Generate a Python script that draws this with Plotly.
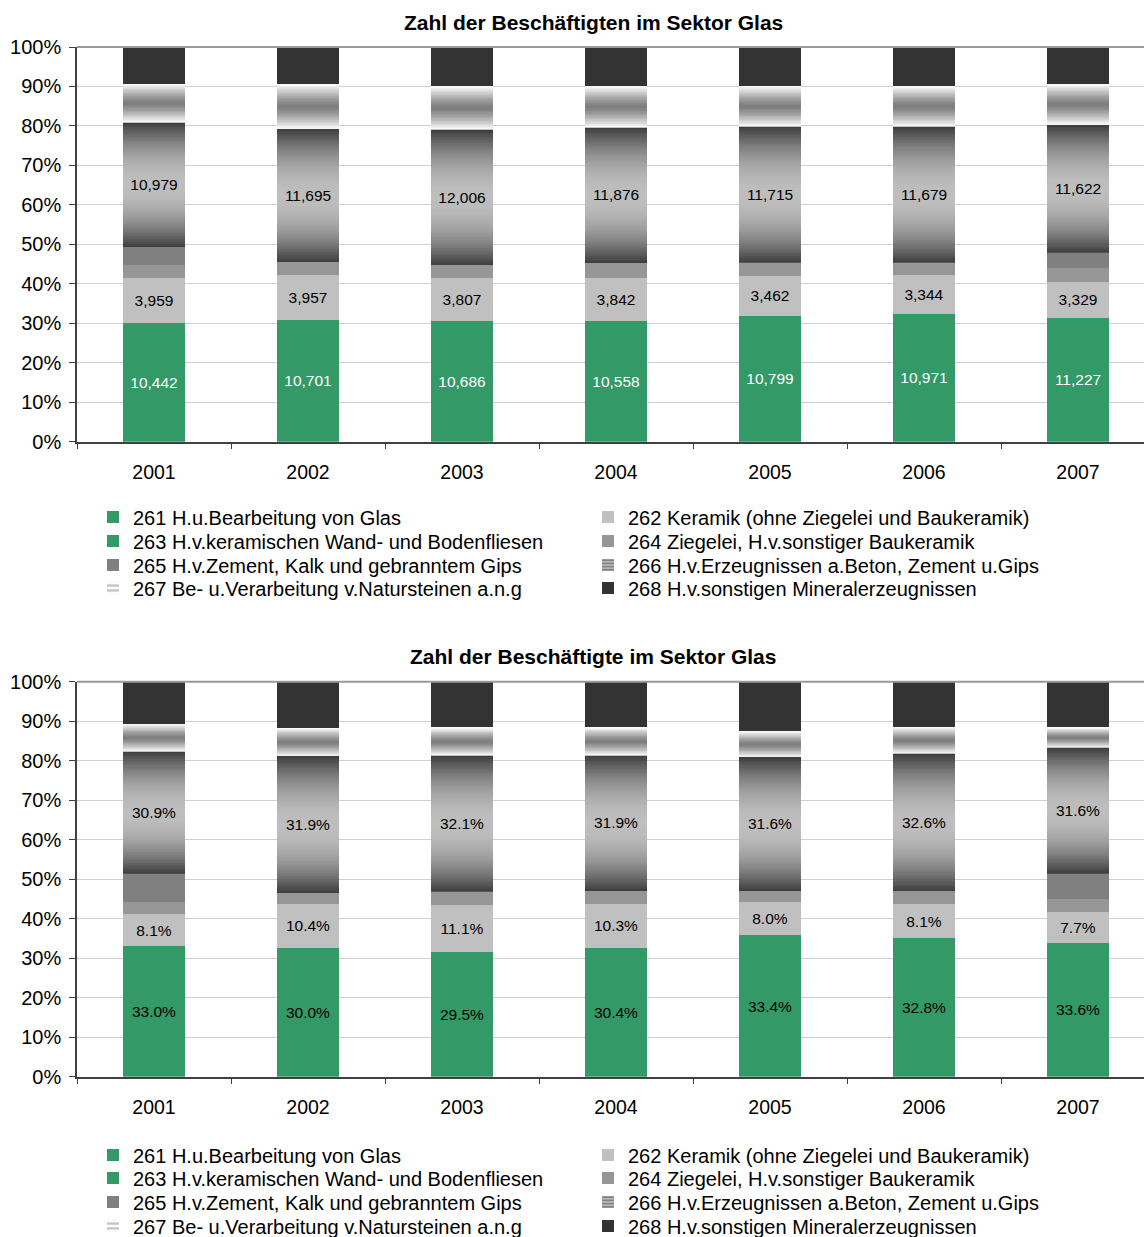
import plotly.graph_objects as go

# ---------------------------------------------------------------- data
years = ["2001", "2002", "2003", "2004", "2005", "2006", "2007"]

codes = ["261", "262", "263", "264", "265", "266", "267", "268"]
labels = [
    "261 H.u.Bearbeitung von Glas",
    "262 Keramik (ohne Ziegelei und Baukeramik)",
    "263 H.v.keramischen Wand- und Bodenfliesen",
    "264 Ziegelei, H.v.sonstiger Baukeramik",
    "265 H.v.Zement, Kalk und gebranntem Gips",
    "266 H.v.Erzeugnissen a.Beton, Zement u.Gips",
    "267 Be- u.Verarbeitung v.Natursteinen a.n.g",
    "268 H.v.sonstigen Mineralerzeugnissen",
]

# Beschäftigte (absolute Zahlen)
emp_261 = [10442, 10701, 10686, 10558, 10799, 10971, 11227]
emp_262 = [3959, 3957, 3807, 3842, 3462, 3344, 3329]
emp_263 = [0, 0, 0, 0, 0, 0, 0]
emp_264 = [1215, 1180, 1160, 1320, 1150, 1085, 1250]
emp_265 = [1595, 0, 0, 0, 0, 0, 1395]
emp_266 = [10979, 11695, 12006, 11876, 11715, 11679, 11622]
emp_267 = [3400, 3950, 3840, 3620, 3490, 3490, 3720]
emp_268 = [3225, 3225, 3450, 3410, 3320, 3320, 3330]

# Anteile in Prozent
pct_261 = [33.0, 30.0, 29.5, 30.4, 33.4, 32.8, 33.6]
pct_262 = [8.1, 10.4, 11.1, 10.3, 8.0, 8.1, 7.7]
pct_263 = [0, 0, 0, 0, 0, 0, 0]
pct_264 = [3.2, 2.6, 3.1, 3.1, 2.6, 3.1, 3.3]
pct_265 = [7.2, 0, 0, 0, 0, 0, 6.6]
pct_266 = [30.9, 31.9, 32.1, 31.9, 31.6, 32.6, 31.6]
pct_267 = [7.0, 6.6, 6.6, 6.6, 6.15, 6.2, 5.0]
pct_268 = [10.6, 10.75, 10.75, 10.7, 11.65, 10.75, 11.5]

titles = ["Zahl der Beschäftigten im Sektor Glas", "Zahl der Beschäftigte im Sektor Glas"]

# ---------------------------------------------------------------- style
FONT = "Liberation Sans, Arial, Helvetica, sans-serif"
GREEN = "#339966"
SOLID = {"261": GREEN, "262": "#c0c0c0", "263": GREEN, "264": "#969696",
         "265": "#808080", "268": "#333333"}
BAR_W = 0.4
W, H = 1144, 1237


def grey(v):
    v = int(round(max(0, min(255, v))))
    return f"rgb({v},{v},{v})"


def shade_266(t):
    # dark at both edges, light in the middle
    u = abs(2 * t - 1)
    return grey(190 - 130 * u ** 2.0)


def shade_267(t):
    # white at both edges, mid grey in the middle
    u = abs(2 * t - 1)
    return grey(125 + 130 * u ** 1.3)


GRADIENTS = {"266": (shade_266, 80), "267": (shade_267, 30)}
LEGEND_ICON = {
    "266": dict(color="#9a9a9a", pattern=dict(shape="-", fgcolor="#404040",
                                               bgcolor="#b8b8b8", size=4, solidity=0.45)),
    "267": dict(color="#ffffff", pattern=dict(shape="-", fgcolor="#8a8a8a",
                                               bgcolor="#ffffff", size=6, solidity=0.5)),
}

fig = go.Figure()


def add_chart(values, xa, ya, ya_top, legends, fmt, label_colors):
    # coloured bar segments (gradient series are built from thin stacked slices)
    for i, code in enumerate(codes):
        vals = values[code]
        leg = legends[i // 2]
        if code in GRADIENTS:
            shade, n = GRADIENTS[code]
            for s in range(n):
                c = shade((s + 0.5) / n)
                fig.add_trace(go.Bar(
                    x=years, y=[v / n for v in vals], width=BAR_W,
                    marker=dict(color=c, line=dict(width=0.7, color=c)),
                    xaxis=xa, yaxis=ya, showlegend=False, hoverinfo="skip"))
            fig.add_trace(go.Bar(
                x=years, y=[None] * len(years), width=BAR_W, name=labels[i],
                marker=dict(line=dict(width=0), **LEGEND_ICON[code]),
                xaxis=xa, yaxis=ya_top, legend=leg, hoverinfo="skip"))
        else:
            fig.add_trace(go.Bar(
                x=years, y=vals, width=BAR_W, name=labels[i],
                marker=dict(color=SOLID[code], line=dict(width=0)),
                xaxis=xa, yaxis=ya, legend=leg, hoverinfo="skip"))
    # value labels on a transparent copy of the stack drawn on top
    for code in codes:
        vals = values[code]
        if code in label_colors:
            txt = [fmt(v) for v in vals]
            col = label_colors[code]
        else:
            txt = [""] * len(vals)
            col = "#000"
        fig.add_trace(go.Bar(
            x=years, y=vals, width=BAR_W, text=txt, texttemplate="%{text}",
            textposition="inside", insidetextanchor="middle", constraintext="none",
            textfont=dict(family=FONT, size=15.5, color=col),
            marker=dict(color="rgba(0,0,0,0)", line=dict(width=0)),
            xaxis=xa, yaxis=ya_top, showlegend=False, hoverinfo="skip"))


emp = {"261": emp_261, "262": emp_262, "263": emp_263, "264": emp_264,
       "265": emp_265, "266": emp_266, "267": emp_267, "268": emp_268}
pct = {"261": pct_261, "262": pct_262, "263": pct_263, "264": pct_264,
       "265": pct_265, "266": pct_266, "267": pct_267, "268": pct_268}

add_chart(emp, "x", "y", "y3", ["legend", "legend2", "legend3", "legend4"],
          lambda v: f"{v:,}", {"261": "#ffffff", "262": "#000", "266": "#000"})
add_chart(pct, "x2", "y2", "y4", ["legend5", "legend6", "legend7", "legend8"],
          lambda v: f"{v:.1f}%", {"261": "#000", "262": "#000", "266": "#000"})

# ---------------------------------------------------------------- axes
x_dom = [77 / W, 1.0]
x_range = [-0.5, -0.5 + (W - 77) / 154.0]
doms = [[1 - 441.7 / H, 1 - 47 / H], [1 - 1076.7 / H, 1 - 681.7 / H]]

xcommon = dict(domain=x_dom, range=x_range, type="category", showgrid=False,
               showline=True, linecolor="#404040", linewidth=1.5,
               ticks="outside", tickson="boundaries", ticklen=6, tickcolor="#404040",
               tickwidth=1, tickfont=dict(family=FONT, size=19.5, color="#000"),
               ticklabelstandoff=12, fixedrange=True)
ycommon = dict(range=[0, 100], dtick=10, ticksuffix="%", showgrid=True,
               gridcolor="#cfcfcf", gridwidth=1.2, zeroline=False, showline=True,
               linecolor="#404040", linewidth=1.5, ticks="outside", ticklen=6,
               tickcolor="#404040", tickfont=dict(family=FONT, size=20, color="#000"),
               ticklabelstandoff=4, fixedrange=True)

fig.update_layout(
    xaxis=dict(anchor="y", **xcommon),
    xaxis2=dict(anchor="y2", **xcommon),
    yaxis=dict(domain=doms[0], anchor="x", **ycommon),
    yaxis2=dict(domain=doms[1], anchor="x2", **ycommon),
    yaxis3=dict(overlaying="y", anchor="x", range=[0, 100], visible=False, fixedrange=True),
    yaxis4=dict(overlaying="y2", anchor="x2", range=[0, 100], visible=False, fixedrange=True),
)

# top frame line of each plot area
for ya in ("y", "y2"):
    fig.add_shape(type="line", xref="x domain" if ya == "y" else "x2 domain",
                  yref=f"{ya} domain", x0=0, x1=1, y0=1, y1=1,
                  line=dict(color="#9a9a9a", width=2))

# titles
for k, (title, yc) in enumerate(zip(titles, [22, 656])):
    fig.add_annotation(text=f"<b>{title}</b>", xref="paper", yref="paper",
                       x=593 / W, y=1 - yc / H, xanchor="center", yanchor="middle",
                       showarrow=False, font=dict(family=FONT, size=21, color="#000"))

# legends: one horizontal row of two entries each
row_y = [[517, 541, 565, 588], [1155, 1178, 1202, 1226]]
legend_layout = {}
for c in range(2):
    for r in range(4):
        name = "legend" if (c == 0 and r == 0) else f"legend{c * 4 + r + 1}"
        legend_layout[name] = dict(
            orientation="h", x=93 / W, xanchor="left", y=1 - row_y[c][r] / H,
            yanchor="middle", entrywidth=450, entrywidthmode="pixels",
            font=dict(family=FONT, size=20, color="#000"), bgcolor="rgba(0,0,0,0)",
            borderwidth=0, itemclick=False, itemdoubleclick=False, traceorder="normal")
fig.update_layout(**legend_layout)

fig.update_layout(
    width=W, height=H, margin=dict(l=0, r=0, t=0, b=0, pad=0, autoexpand=False),
    barmode="stack", barnorm="percent",
    paper_bgcolor="white", plot_bgcolor="white",
    font=dict(family=FONT, color="#000"),
    hovermode=False,
)

fig.write_html("out.html", config={"displayModeBar": False})
